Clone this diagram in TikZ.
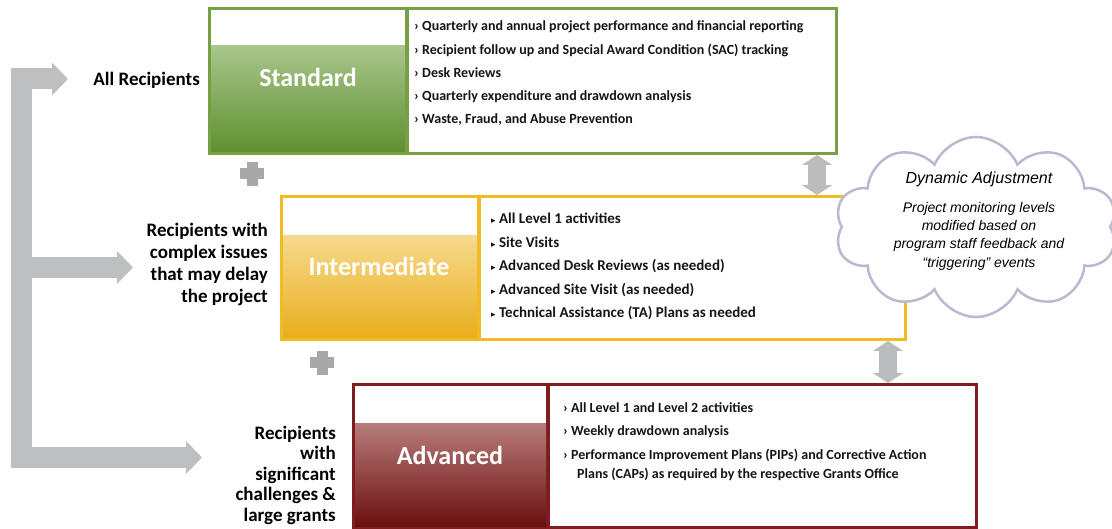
\documentclass[tikz,border=0pt]{standalone}
\usepackage{fontspec}
\setmainfont{Carlito}
\newfontfamily\lib{Liberation Sans}
\newfontfamily\dejavu{DejaVu Sans}
\usetikzlibrary{shapes.symbols,arrows.meta}
\definecolor{grnframe}{HTML}{77A044}
\definecolor{grnlt}{HTML}{A9C68D}
\definecolor{grndk}{HTML}{5F9030}
\definecolor{orgframe}{HTML}{F2BA25}
\definecolor{orglt}{HTML}{F6DA8E}
\definecolor{orgdk}{HTML}{E9AE1C}
\definecolor{marframe}{HTML}{7D1D1D}
\definecolor{marlt}{HTML}{B87C7A}
\definecolor{mardk}{HTML}{6A1010}
\definecolor{bargrey}{HTML}{BEBFC1}
\definecolor{plusgrey}{HTML}{A7A8AA}
\definecolor{dblgrey}{HTML}{BBBCBE}
\definecolor{cloudc}{HTML}{B8BAD0}
\definecolor{itemc}{HTML}{151515}
\begin{document}
\begin{tikzpicture}[x=1pt,y=-1pt,
  lbl/.style={font=\bfseries\fontsize{19}{22}\selectfont, align=right, inner sep=0pt, text=black, anchor=east},
  ttl/.style={font=\bfseries\fontsize{26}{30}\selectfont, text=white, inner sep=0pt},
  itm/.style={font=\bfseries\fontsize{14}{17}\selectfont, anchor=west, inner sep=0pt, text=itemc},
  itmb/.style={itm, font=\bfseries\fontsize{15}{17}\selectfont},
  bar/.style={draw=bargrey, line width=21pt},
  fatarrow/.style={draw=bargrey, line width=21pt, -{Triangle[length=16pt,width=32pt]}},
  dbl/.style={draw=dblgrey, line width=18pt, {Triangle[length=10pt,width=30pt]}-{Triangle[length=10pt,width=30pt]}},
  framebox/.style={inner sep=0pt, outer sep=0pt}
]
\useasboundingbox (0,0) rectangle (1112,529);

% left bracket
\coordinate (btop) at (21,68);
\coordinate (bbot) at (21,468);
\draw[bar] (btop) -- (bbot);
\coordinate (a1s) at (10.5,79);
\coordinate (a1e) at (68,79);
\coordinate (a2s) at (10.5,267.5);
\coordinate (a2e) at (133,267.5);
\coordinate (a3s) at (10.5,457.5);
\coordinate (a3e) at (202,457.5);
\draw[fatarrow] (a1s) -- (a1e);
\draw[fatarrow] (a2s) -- (a2e);
\draw[fatarrow] (a3s) -- (a3e);

% labels
\node[lbl] (l1) at (200,80) {All Recipients};
\node[lbl] (l2) at (268,264) {Recipients with\\complex issues\\that may delay\\the project};
\node[lbl, font=\bfseries\fontsize{19}{20.5}\selectfont] (l3) at (336,475) {Recipients\\with\\significant\\challenges \&\\large grants};

% Standard box
\node[framebox, fill=grnframe, minimum width=630pt, minimum height=148pt] (std) at (523,81) {};
\shade[top color=grnlt, bottom color=grndk] (211,45) rectangle (405,152);
\fill[white] (211,10) rectangle (405,45);
\fill[white] (409,10) rectangle (835,152);
\node[ttl] (tstd) at (308,77) {Standard};
\node[itm] (s1) at (414,27) {› Quarterly and annual project performance and financial reporting};
\node[itm] (s2) at (414,50) {› Recipient follow up and Special Award Condition (SAC) tracking};
\node[itm] (s3) at (414,73) {› Desk Reviews};
\node[itm] (s4) at (414,97) {› Quarterly expenditure and drawdown analysis};
\node[itm] (s5) at (414,120) {› Waste, Fraud, and Abuse Prevention};

% Intermediate box
\node[framebox, fill=orgframe, minimum width=627pt, minimum height=146pt] (int) at (593.5,268) {};
\shade[top color=orglt, bottom color=orgdk] (283,235) rectangle (477,338);
\fill[white] (283,198) rectangle (477,235);
\fill[white] (481,198) rectangle (904,338);
\node[ttl] (tint) at (379,266) {Intermediate};
\node[itmb] (i1) at (491,218) {{\dejavu\fontsize{9}{10}\selectfont ▸} All Level 1 activities};
\node[itmb] (i2) at (491,242) {{\dejavu\fontsize{9}{10}\selectfont ▸} Site Visits};
\node[itmb] (i3) at (491,266) {{\dejavu\fontsize{9}{10}\selectfont ▸} Advanced Desk Reviews (as needed)};
\node[itmb] (i4) at (491,290) {{\dejavu\fontsize{9}{10}\selectfont ▸} Advanced Site Visit (as needed)};
\node[itmb] (i5) at (491,313) {{\dejavu\fontsize{9}{10}\selectfont ▸} Technical Assistance (TA) Plans as needed};

% Advanced box
\node[framebox, fill=marframe, minimum width=626pt, minimum height=146pt] (adv) at (665,456) {};
\shade[top color=marlt, bottom color=mardk] (355,423) rectangle (546,526);
\fill[white] (355,386) rectangle (546,423);
\fill[white] (550,386) rectangle (975,526);
\node[ttl] (tadv) at (450,455) {Advanced};
\node[itm] (v1) at (563,408) {› All Level 1 and Level 2 activities};
\node[itm] (v2) at (563,432) {› Weekly drawdown analysis};
\node[itm] (v3) at (563,455) {› Performance Improvement Plans (PIPs) and Corrective Action};
\node[itm] (v4) at (577,474) {Plans (CAPs) as required by the respective Grants Office};

% plus signs
\fill[plusgrey] (240,168.5) rectangle (264,179.5);
\fill[plusgrey] (246.5,162) rectangle (257.5,186);
\fill[plusgrey] (310,357.5) rectangle (334,368.5);
\fill[plusgrey] (316.5,351) rectangle (327.5,375);

% double arrows
\coordinate (d1) at (817,0);
\coordinate (d2) at (888,0);
\draw[dbl] (std.south -| d1) -- (int.north -| d1);
\draw[dbl] (int.south -| d2) -- (adv.north -| d2);

% cloud
\node[cloud, draw=cloudc, fill=white, line width=2.5pt, cloud puffs=10, cloud puff arc=135,
      minimum width=282pt, minimum height=180pt, aspect=1.6, inner sep=0pt] (cl) at (976,227) {};
\node[font=\lib\itshape\fontsize{16}{19}\selectfont, inner sep=0pt] (ct) at (979,179) {Dynamic Adjustment};
\node[font=\lib\itshape\fontsize{14}{18.3}\selectfont, align=center, inner sep=0pt] (cb) at (979,236)
  {Project monitoring levels\\modified based on\\program staff feedback and\\“triggering” events};
\end{tikzpicture}
\end{document}
